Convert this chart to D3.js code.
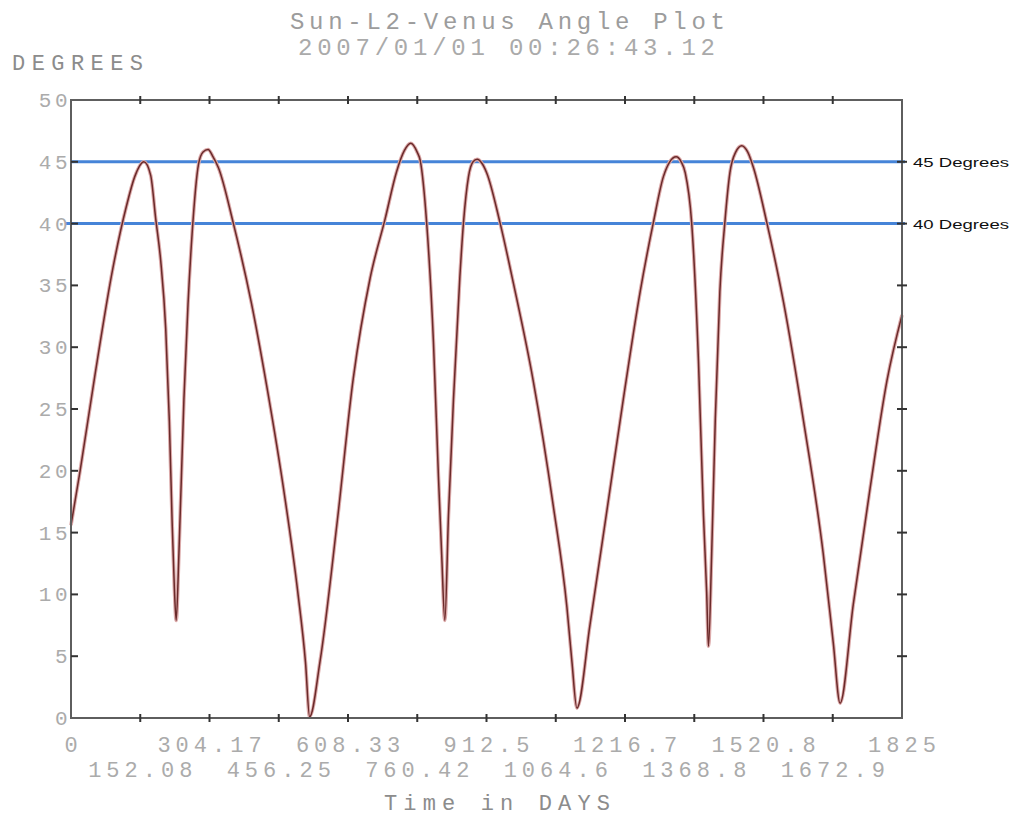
<!DOCTYPE html>
<html>
<head>
<meta charset="utf-8">
<script src="https://cdn.jsdelivr.net/npm/d3@7"></script>
<style>
  body { margin: 0; background: #fff; }
  .mono { font-family: "Liberation Mono", "Courier New", monospace; }
</style>
</head>
<body>
<script>
// angle values (days, degrees)
const days = [0, 20, 52, 92, 121, 140, 160, 175, 186, 197, 208, 216, 222, 227, 231, 237, 248, 257, 266, 280, 290, 301, 312, 324,
  356, 396, 432, 469, 498, 515, 524, 547, 585, 620, 657, 690, 715, 732, 746, 760, 767, 781, 796, 807, 814, 821,
  829, 840, 854, 862, 873, 883, 892, 902, 913, 942, 972, 1015, 1059, 1089, 1100, 1111, 1140, 1177, 1213,
  1250, 1279, 1301, 1315, 1329, 1340, 1349, 1363, 1378, 1389, 1396, 1400, 1407, 1415, 1425, 1436, 1447, 1460,
  1473, 1486, 1499, 1528, 1565, 1608, 1652, 1674, 1689, 1718, 1755, 1792, 1825];
const degrees = [15.6, 20.0, 27.6, 36.4, 41.3, 43.8, 45.0, 43.9, 40.4, 37.0, 31.5, 24.0, 16.0, 10.5, 7.9, 13.3, 25.8, 33.5, 39.2, 44.8, 45.8, 46.0, 45.4, 44.5,
  40.1, 33.6, 26.4, 18.0, 10.2, 4.5, 0.1, 4.6, 16.0, 27.5, 35.6, 40.4, 44.2, 45.9, 46.5, 45.8, 45.1, 40.1, 30.4, 19.5, 13.3, 7.9,
  16.4, 25.8, 35.7, 40.1, 43.8, 45.0, 45.2, 44.9, 44.1, 40.1, 35.1, 27.3, 17.2, 9.0, 4.6, 0.8, 7.6, 16.8, 25.8,
  34.5, 40.1, 43.8, 45.0, 45.4, 45.0, 44.1, 40.1, 28.9, 16.4, 10.2, 5.8, 13.3, 24.2, 34.5, 40.1, 44.1, 45.8,
  46.3, 45.8, 44.5, 40.1, 33.6, 24.2, 13.3, 6.1, 1.2, 9.2, 18.6, 27.3, 32.6];

const xTicks = [0, 152.08, 304.17, 456.25, 608.33, 760.42, 912.5, 1064.6, 1216.7, 1368.8, 1520.8, 1672.9, 1825];
const xTickLabels = ["0", "152.08", "304.17", "456.25", "608.33", "760.42", "912.5", "1064.6", "1216.7", "1368.8", "1520.8", "1672.9", "1825"];
const yTicks = [0, 5, 10, 15, 20, 25, 30, 35, 40, 45, 50];
const refLines = [45, 40];
const refLabels = ["45 Degrees", "40 Degrees"];

const svg = d3.select("body").append("svg").attr("width", 1013).attr("height", 817);

const x = d3.scaleLinear().domain([0, 1825]).range([71, 902]);
const y = d3.scaleLinear().domain([0, 50]).range([718, 100]);

// titles
svg.append("text").attr("class", "mono")
  .attr("x", 290).attr("y", 29)
  .attr("textLength", 435).attr("lengthAdjust", "spacing")
  .style("font-size", "24px").style("fill", "#9c9c9c")
  .text("Sun-L2-Venus Angle Plot");
svg.append("text").attr("class", "mono")
  .attr("x", 298).attr("y", 55)
  .attr("textLength", 417).attr("lengthAdjust", "spacing")
  .style("font-size", "24px").style("fill", "#aaaaaa")
  .text("2007/01/01 00:26:43.12");
svg.append("text").attr("class", "mono")
  .attr("x", 12).attr("y", 70)
  .attr("textLength", 131).attr("lengthAdjust", "spacing")
  .style("font-size", "22px").style("fill", "#8c8c8c")
  .text("DEGREES");

// reference lines
const [x0, x1] = x.range();
svg.selectAll(".ref")
  .data(refLines)
  .enter()
  .append("line")
  .attr("class", "ref")
  .attr("x1", (d, i) => (i === 1 ? x0 - 6 : x0))
  .attr("x2", x1 + 3)
  .attr("y1", (d) => y(d))
  .attr("y2", (d) => y(d))
  .style("stroke", "#4684d8")
  .style("stroke-width", 3);

svg.selectAll(".refLabel")
  .data(refLabels)
  .enter()
  .append("text")
  .attr("x", 913)
  .attr("y", (d, i) => y(refLines[i]) + 5)
  .attr("textLength", 96).attr("lengthAdjust", "spacingAndGlyphs")
  .style("font-family", "Liberation Sans, Arial, sans-serif")
  .style("font-size", "13px")
  .style("fill", "#111")
  .text((d) => d);

// curve
const points = days.map((d, i) => [d, degrees[i]]);
const line = d3.line()
  .x((d) => x(d[0]))
  .y((d) => y(d[1]))
  .curve(d3.curveMonotoneX);

svg.append("path").datum(points)
  .attr("d", line)
  .style("fill", "none")
  .style("stroke", "#dcaaaa")
  .style("stroke-width", 3.6);
svg.append("path").datum(points)
  .attr("d", line)
  .style("fill", "none")
  .style("stroke", "#6a2a2a")
  .style("stroke-width", 1.5);

// frame
svg.append("rect")
  .attr("x", x0).attr("y", y(50))
  .attr("width", x1 - x0).attr("height", y(0) - y(50))
  .style("fill", "none")
  .style("stroke", "#5e5e5e")
  .style("stroke-width", 2);

const tickStyle = (sel) => sel.style("stroke", "#333").style("stroke-width", 2);

// bottom and top ticks
[y(0), y(50)].forEach((yy) => {
  svg.append("g").selectAll("line")
    .data(xTicks.slice(1, -1))
    .enter()
    .append("line")
    .attr("x1", (d) => x(d)).attr("x2", (d) => x(d))
    .attr("y1", yy - 4).attr("y2", yy + 4)
    .call(tickStyle);
});

// left ticks (inside) and right ticks (crossing)
svg.append("g").selectAll("line")
  .data(yTicks.slice(1, -1))
  .enter()
  .append("line")
  .attr("x1", x0).attr("x2", x0 + 7)
  .attr("y1", (d) => y(d)).attr("y2", (d) => y(d))
  .call(tickStyle);
svg.append("g").selectAll("line")
  .data(yTicks.slice(1, -1))
  .enter()
  .append("line")
  .attr("x1", x1 - 5).attr("x2", x1 + 5)
  .attr("y1", (d) => y(d)).attr("y2", (d) => y(d))
  .call(tickStyle);

// y labels
svg.append("g").selectAll("text")
  .data(yTicks)
  .enter()
  .append("text")
  .attr("class", "mono")
  .attr("x", 71)
  .attr("y", (d) => y(d) + 7)
  .attr("text-anchor", "end")
  .style("font-size", "21px")
  .style("letter-spacing", "3.5px")
  .style("fill", "#ababab")
  .text((d) => d);

// x labels, alternating rows
svg.append("g").selectAll("text")
  .data(xTicks)
  .enter()
  .append("text")
  .attr("class", "mono")
  .attr("x", (d) => x(d) + 2.5)
  .attr("y", (d, i) => (i % 2 === 0 ? 752 : 777))
  .attr("text-anchor", "middle")
  .style("font-size", "22px")
  .style("letter-spacing", "5px")
  .style("fill", "#ababab")
  .text((d, i) => xTickLabels[i]);

svg.append("text").attr("class", "mono")
  .attr("x", 384).attr("y", 810)
  .attr("textLength", 226).attr("lengthAdjust", "spacing")
  .style("font-size", "22px").style("fill", "#8c8c8c")
  .text("Time in DAYS");
</script>
</body>
</html>
